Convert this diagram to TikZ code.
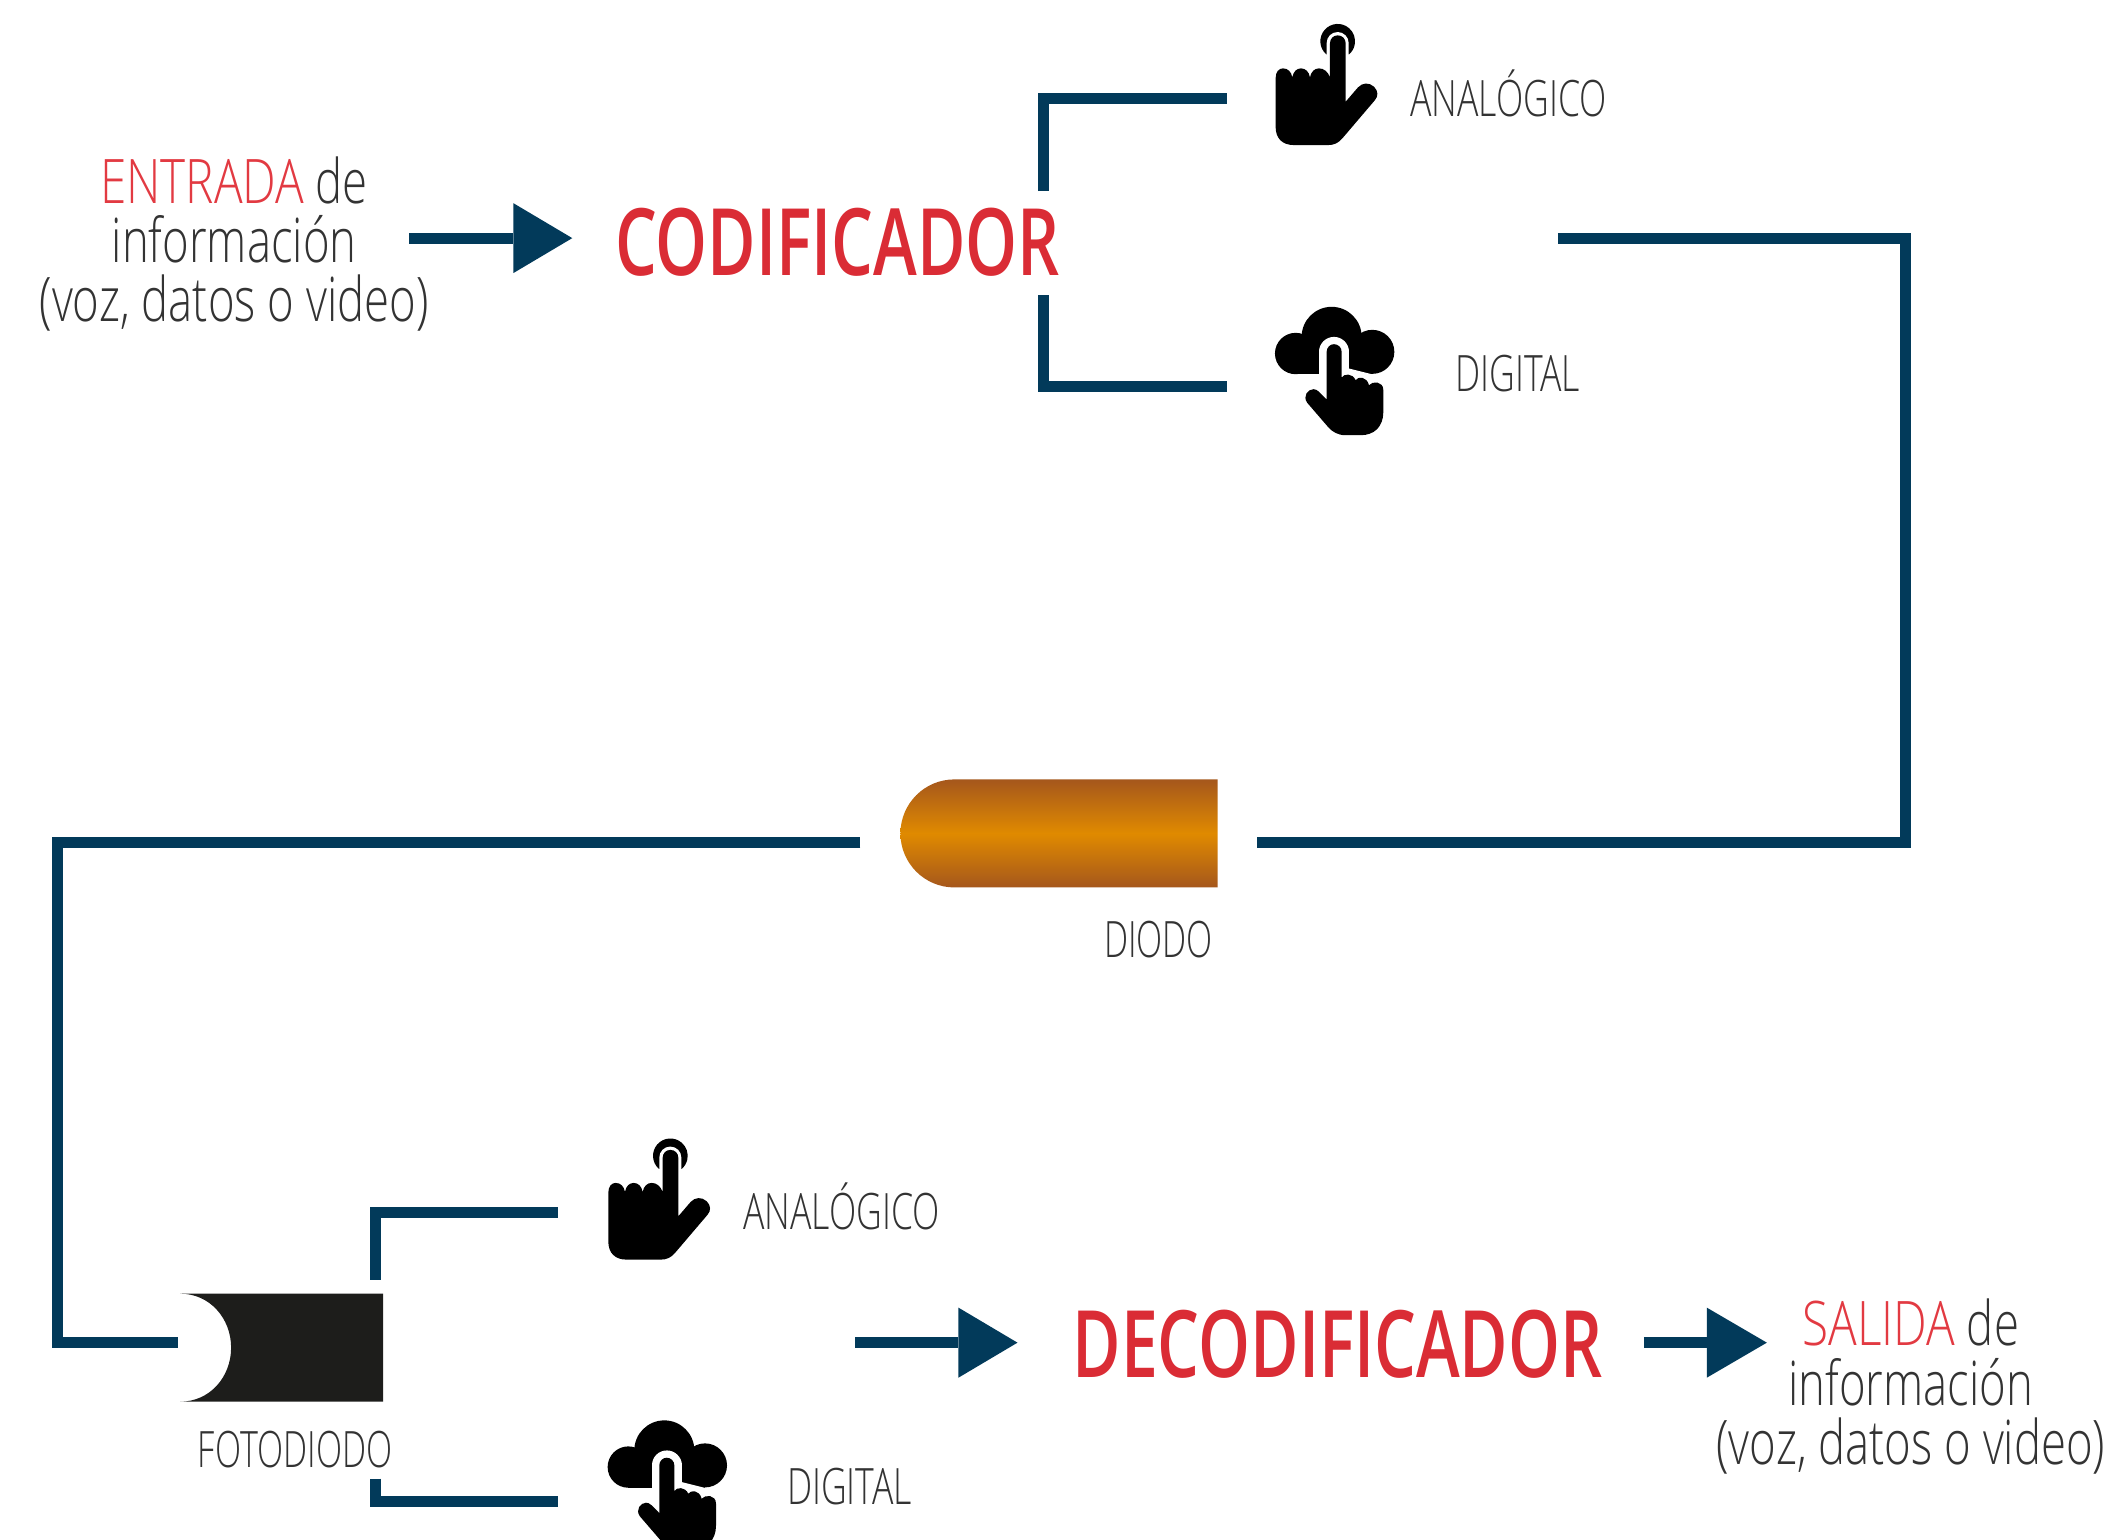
\documentclass[tikz,border=0pt]{standalone}
\usepackage{fontspec}
\setmainfont{Open Sans}
\newfontfamily\lightf[FakeStretch=0.71]{Open Sans Light}
\newfontfamily\narrowf[FakeStretch=0.68]{Open Sans Light}
\newfontfamily\infof[FakeStretch=0.74]{Open Sans Light}
\newfontfamily\capf[FakeStretch=0.775]{Open Sans Light}
\newfontfamily\titlef[FakeStretch=0.71]{Open Sans Semibold}
\definecolor{navy}{HTML}{023A5A}
\definecolor{redt}{HTML}{DA2C35}
\definecolor{redl}{HTML}{E23A42}
\definecolor{greyt}{HTML}{333333}
\definecolor{diodedge}{HTML}{A5571C}
\definecolor{diodmid}{HTML}{E08A00}
\definecolor{photodark}{HTML}{1D1D1B}
\tikzset{
  wire/.style={draw=navy,line width=3.31pt,line cap=butt,line join=miter},
  head/.style={fill=navy,draw=none},
  tlabel/.style={inner sep=0pt,text=greyt,font=\lightf\fontsize{15.1}{15.1}\selectfont},
  nlabel/.style={inner sep=0pt,text=greyt,font=\narrowf\fontsize{15.1}{15.1}\selectfont},
  infolabel/.style={inner sep=0pt,text=greyt,align=center,font=\infof\fontsize{18.5}{17.83}\selectfont},
  titlelabel/.style={inner sep=0pt,text=redt,font=\titlef\fontsize{28}{28}\selectfont},
  pics/handicon/.style={code={
    \begin{scope}[x=0.1bp,y=-0.1bp]
      \fill[black] (257,133) arc[start angle=131,end angle=409,radius=52] -- cycle;
      \fill[white] (258,140) -- (258,99) arc[start angle=180,end angle=360,radius=33] -- (324,140) -- cycle;
      \fill[black] (105,205) .. controls (105,185) and (115,175) .. (127,175)
        .. controls (142,175) and (152,185) .. (155,202)
        .. controls (158,185) and (168,175) .. (181,175)
        .. controls (195,175) and (205,185) .. (208,202)
        .. controls (211,185) and (222,175) .. (235,175)
        .. controls (250,175) and (262,185) .. (268,202)
        -- (268,100) .. controls (268,86) and (278,76) .. (291,76)
        .. controls (305,76) and (315,86) .. (315,100)
        -- (315,275) -- (352,232)
        .. controls (365,218) and (385,216) .. (400,230)
        .. controls (413,243) and (413,258) .. (403,270)
        -- (305,385) .. controls (293,399) and (280,405) .. (262,405)
        -- (160,405) .. controls (125,405) and (105,385) .. (105,350) -- cycle;
    \end{scope}}},
  pics/cloudicon/.style={code={
    \begin{scope}[x=0.1bp,y=-0.1bp]
      \fill[black] (135,190) circle[radius=62];
      \fill[black] (243,140) circle[radius=90];
      \fill[black] (365,185) circle[radius=66];
      \fill[black] (135,170) rectangle (365,252);
      \draw[white,line width=9pt,line cap=round] (250,185) -- (250,290);
      \fill[white] (295,205) -- (295,235) -- (375,255) -- (405,300) -- (295,300) -- cycle;
      \fill[black] (228,185) .. controls (228,172) and (238,162) .. (250,162)
        .. controls (263,162) and (273,172) .. (273,185)
        -- (273,262) .. controls (280,250) and (305,248) .. (315,270)
        .. controls (322,258) and (348,258) .. (355,285)
        .. controls (365,272) and (398,272) .. (398,300)
        -- (398,365) .. controls (398,410) and (370,435) .. (330,435)
        -- (285,435) .. controls (262,435) and (245,425) .. (232,410)
        -- (170,338) .. controls (155,318) and (172,297) .. (188,297)
        .. controls (200,297) and (205,305) .. (228,328) -- cycle;
    \end{scope}}}
}
\begin{document}
\begin{tikzpicture}[x=0.3bp,y=-0.3bp]
\useasboundingbox (0,0) rectangle (2109,1539);
\clip (0,0) rectangle (2109,1539);

% named ends
\coordinate (a1s) at (409,238); \coordinate (a1b) at (513,238); \coordinate (a1t) at (572,238);
\coordinate (a2s) at (855,1342); \coordinate (a2b) at (958,1342); \coordinate (a2t) at (1017,1342);
\coordinate (a3s) at (1643,1342); \coordinate (a3b) at (1706,1342); \coordinate (a3t) at (1766,1342);
\coordinate (b1a) at (1043,191); \coordinate (b1b) at (1043,98); \coordinate (b1c) at (1226,98);
\coordinate (b2a) at (1043,295); \coordinate (b2b) at (1043,386); \coordinate (b2c) at (1226,386);
\coordinate (b3a) at (375,1279); \coordinate (b3b) at (375,1212); \coordinate (b3c) at (558,1212);
\coordinate (b4a) at (375,1478); \coordinate (b4b) at (375,1501); \coordinate (b4c) at (558,1501);
\coordinate (l1a) at (1557,238); \coordinate (l1b) at (1905,238); \coordinate (l1c) at (1905,842); \coordinate (l1d) at (1256,842);
\coordinate (l2a) at (860,842); \coordinate (l2b) at (57,842); \coordinate (l2c) at (57,1342); \coordinate (l2d) at (178,1342);

% wires
\draw[wire] (a1s) -- (a1b);
\draw[wire] (a2s) -- (a2b);
\draw[wire] (a3s) -- (a3b);
\fill[head] (513,203) -- (a1t) -- (513,273) -- cycle;
\fill[head] (958,1307) -- (a2t) -- (958,1377) -- cycle;
\fill[head] (1706,1307) -- (a3t) -- (1706,1377) -- cycle;
\draw[wire] (b1a) -- (b1b) -- (b1c);
\draw[wire] (b2a) -- (b2b) -- (b2c);
\draw[wire] (b3a) -- (b3b) -- (b3c);
\draw[wire] (b4a) -- (b4b) -- (b4c);
\draw[wire] (l1a) -- (l1b) -- (l1c) -- (l1d);
\draw[wire] (l2a) -- (l2b) -- (l2c) -- (l2d);

% diode
\shade[top color=diodedge,bottom color=diodedge,middle color=diodmid]
  (1217,779) -- (954,779) arc[start angle=270,end angle=90,radius=54] -- (1217,887) -- cycle;
% photodiode
\fill[fill=photodark] (383,1293) -- (180,1293) .. controls (210,1293) and (231,1318) .. (231,1347)
  .. controls (231,1376) and (210,1401) .. (180,1401) -- (383,1401) -- cycle;

% icons
\pic (hand1) at (1240,10) {handicon};
\pic (cloud1) at (1250,290) {cloudicon};
\pic (hand2) at (573,1124) {handicon};
\pic (cloud2) at (583,1403) {cloudicon};

% labels
\node[infolabel] (entrada) at (234,244) {{\capf\color{redl}ENTRADA} de\\información\\(voz, datos o video)};
\node[infolabel] (salida) at (1910,1386) {{\capf\color{redl}SALIDA} de\\información\\(voz, datos o video)};
\node[titlelabel] (cod) at (837,242) {CODIFICADOR};
\node[titlelabel] (dec) at (1337,1344) {DECODIFICADOR};
\node[tlabel] (ana1) at (1508,93) {ANALÓGICO};
\node[tlabel] (dig1) at (1517,373) {DIGITAL};
\node[tlabel] (ana2) at (841,1206) {ANALÓGICO};
\node[tlabel] (dig2) at (849,1486) {DIGITAL};
\node[nlabel] (diodo) at (1158,939) {DIODO};
\node[nlabel] (foto) at (295,1449) {FOTODIODO};
\end{tikzpicture}
\end{document}
